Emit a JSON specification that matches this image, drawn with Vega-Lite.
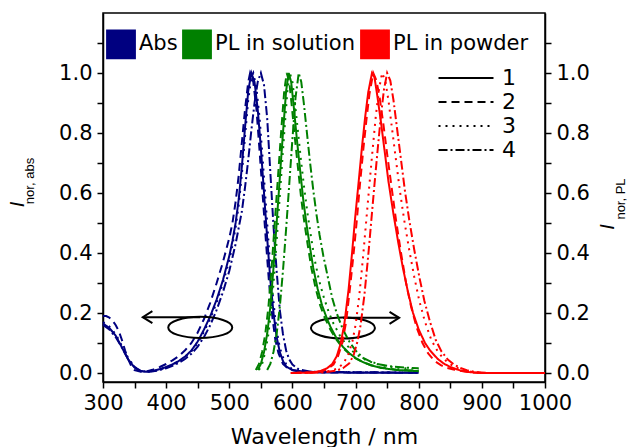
{
"$schema":"https://vega.github.io/schema/vega-lite/v6.json",
"width":442,"height":369,
"autosize":{"type":"none"},
"padding":{"left":103,"top":13,"right":86,"bottom":65},
"background":"white",
"config":{
 "view":{"stroke":"black","strokeWidth":1.5},
 "font":"DejaVu Sans",
 "axis":{"domainColor":"black","domainWidth":1.5,"tickColor":"black","tickWidth":1.5,"tickSize":6,"labelColor":"black","labelFontSize":21,"labelFont":"DejaVu Sans","grid":false,"titleColor":"black","titleFont":"DejaVu Sans","titleFontWeight":"normal"},
 "legend":{"labelFont":"DejaVu Sans","labelColor":"black"}
},
"datasets":{
"curves":[
{"s":"A","n":"1","x":300,"y":0.165},{"s":"A","n":"1","x":310,"y":0.15},{"s":"A","n":"1","x":320,"y":0.125},{"s":"A","n":"1","x":330,"y":0.085},{"s":"A","n":"1","x":340,"y":0.045},{"s":"A","n":"1","x":350,"y":0.018},{"s":"A","n":"1","x":360,"y":0.006},{"s":"A","n":"1","x":370,"y":0.004},{"s":"A","n":"1","x":380,"y":0.007},{"s":"A","n":"1","x":390,"y":0.013},{"s":"A","n":"1","x":400,"y":0.02},{"s":"A","n":"1","x":410,"y":0.029},{"s":"A","n":"1","x":420,"y":0.04},{"s":"A","n":"1","x":430,"y":0.055},{"s":"A","n":"1","x":440,"y":0.075},{"s":"A","n":"1","x":450,"y":0.105},{"s":"A","n":"1","x":460,"y":0.145},{"s":"A","n":"1","x":470,"y":0.19},{"s":"A","n":"1","x":480,"y":0.245},{"s":"A","n":"1","x":490,"y":0.31},{"s":"A","n":"1","x":500,"y":0.39},{"s":"A","n":"1","x":505,"y":0.44},{"s":"A","n":"1","x":510,"y":0.5},{"s":"A","n":"1","x":515,"y":0.58},{"s":"A","n":"1","x":520,"y":0.69},{"s":"A","n":"1","x":525,"y":0.82},{"s":"A","n":"1","x":530,"y":0.94},{"s":"A","n":"1","x":535,"y":1.0},{"s":"A","n":"1","x":540,"y":0.97},{"s":"A","n":"1","x":545,"y":0.88},{"s":"A","n":"1","x":550,"y":0.75},{"s":"A","n":"1","x":555,"y":0.6},{"s":"A","n":"1","x":560,"y":0.45},{"s":"A","n":"1","x":565,"y":0.31},{"s":"A","n":"1","x":570,"y":0.2},{"s":"A","n":"1","x":575,"y":0.12},{"s":"A","n":"1","x":580,"y":0.07},{"s":"A","n":"1","x":585,"y":0.04},{"s":"A","n":"1","x":590,"y":0.022},{"s":"A","n":"1","x":600,"y":0.01},{"s":"A","n":"1","x":620,"y":0.004},{"s":"A","n":"1","x":650,"y":0.002},{"s":"A","n":"1","x":700,"y":0.001},{"s":"A","n":"1","x":800,"y":0.001},
{"s":"A","n":"2","x":300,"y":0.19},{"s":"A","n":"2","x":305,"y":0.19},{"s":"A","n":"2","x":310,"y":0.185},{"s":"A","n":"2","x":315,"y":0.175},{"s":"A","n":"2","x":320,"y":0.16},{"s":"A","n":"2","x":325,"y":0.14},{"s":"A","n":"2","x":330,"y":0.11},{"s":"A","n":"2","x":335,"y":0.075},{"s":"A","n":"2","x":340,"y":0.045},{"s":"A","n":"2","x":345,"y":0.022},{"s":"A","n":"2","x":350,"y":0.01},{"s":"A","n":"2","x":360,"y":0.004},{"s":"A","n":"2","x":370,"y":0.006},{"s":"A","n":"2","x":380,"y":0.012},{"s":"A","n":"2","x":390,"y":0.02},{"s":"A","n":"2","x":400,"y":0.03},{"s":"A","n":"2","x":410,"y":0.042},{"s":"A","n":"2","x":420,"y":0.056},{"s":"A","n":"2","x":430,"y":0.076},{"s":"A","n":"2","x":440,"y":0.1},{"s":"A","n":"2","x":450,"y":0.135},{"s":"A","n":"2","x":460,"y":0.18},{"s":"A","n":"2","x":470,"y":0.235},{"s":"A","n":"2","x":480,"y":0.3},{"s":"A","n":"2","x":490,"y":0.37},{"s":"A","n":"2","x":500,"y":0.45},{"s":"A","n":"2","x":505,"y":0.5},{"s":"A","n":"2","x":510,"y":0.57},{"s":"A","n":"2","x":515,"y":0.66},{"s":"A","n":"2","x":520,"y":0.77},{"s":"A","n":"2","x":525,"y":0.88},{"s":"A","n":"2","x":530,"y":0.97},{"s":"A","n":"2","x":533,"y":1.0},{"s":"A","n":"2","x":538,"y":0.97},{"s":"A","n":"2","x":543,"y":0.88},{"s":"A","n":"2","x":548,"y":0.74},{"s":"A","n":"2","x":553,"y":0.59},{"s":"A","n":"2","x":558,"y":0.44},{"s":"A","n":"2","x":563,"y":0.3},{"s":"A","n":"2","x":568,"y":0.19},{"s":"A","n":"2","x":573,"y":0.11},{"s":"A","n":"2","x":578,"y":0.065},{"s":"A","n":"2","x":585,"y":0.03},{"s":"A","n":"2","x":595,"y":0.012},{"s":"A","n":"2","x":610,"y":0.005},{"s":"A","n":"2","x":650,"y":0.002},{"s":"A","n":"2","x":800,"y":0.001},
{"s":"A","n":"3","x":300,"y":0.17},{"s":"A","n":"3","x":310,"y":0.155},{"s":"A","n":"3","x":320,"y":0.13},{"s":"A","n":"3","x":330,"y":0.09},{"s":"A","n":"3","x":340,"y":0.05},{"s":"A","n":"3","x":350,"y":0.02},{"s":"A","n":"3","x":360,"y":0.007},{"s":"A","n":"3","x":370,"y":0.004},{"s":"A","n":"3","x":380,"y":0.006},{"s":"A","n":"3","x":390,"y":0.011},{"s":"A","n":"3","x":400,"y":0.018},{"s":"A","n":"3","x":410,"y":0.027},{"s":"A","n":"3","x":420,"y":0.038},{"s":"A","n":"3","x":430,"y":0.052},{"s":"A","n":"3","x":440,"y":0.072},{"s":"A","n":"3","x":450,"y":0.1},{"s":"A","n":"3","x":460,"y":0.138},{"s":"A","n":"3","x":470,"y":0.182},{"s":"A","n":"3","x":480,"y":0.235},{"s":"A","n":"3","x":490,"y":0.3},{"s":"A","n":"3","x":500,"y":0.375},{"s":"A","n":"3","x":505,"y":0.425},{"s":"A","n":"3","x":510,"y":0.485},{"s":"A","n":"3","x":515,"y":0.56},{"s":"A","n":"3","x":520,"y":0.665},{"s":"A","n":"3","x":525,"y":0.79},{"s":"A","n":"3","x":530,"y":0.91},{"s":"A","n":"3","x":535,"y":0.985},{"s":"A","n":"3","x":538,"y":1.0},{"s":"A","n":"3","x":543,"y":0.95},{"s":"A","n":"3","x":548,"y":0.85},{"s":"A","n":"3","x":553,"y":0.71},{"s":"A","n":"3","x":558,"y":0.56},{"s":"A","n":"3","x":563,"y":0.41},{"s":"A","n":"3","x":568,"y":0.28},{"s":"A","n":"3","x":573,"y":0.175},{"s":"A","n":"3","x":578,"y":0.105},{"s":"A","n":"3","x":583,"y":0.062},{"s":"A","n":"3","x":590,"y":0.03},{"s":"A","n":"3","x":600,"y":0.012},{"s":"A","n":"3","x":620,"y":0.004},{"s":"A","n":"3","x":800,"y":0.001},
{"s":"A","n":"4","x":300,"y":0.16},{"s":"A","n":"4","x":310,"y":0.145},{"s":"A","n":"4","x":320,"y":0.12},{"s":"A","n":"4","x":330,"y":0.085},{"s":"A","n":"4","x":340,"y":0.045},{"s":"A","n":"4","x":350,"y":0.02},{"s":"A","n":"4","x":360,"y":0.007},{"s":"A","n":"4","x":370,"y":0.004},{"s":"A","n":"4","x":380,"y":0.006},{"s":"A","n":"4","x":390,"y":0.01},{"s":"A","n":"4","x":400,"y":0.016},{"s":"A","n":"4","x":410,"y":0.024},{"s":"A","n":"4","x":420,"y":0.034},{"s":"A","n":"4","x":430,"y":0.047},{"s":"A","n":"4","x":440,"y":0.064},{"s":"A","n":"4","x":450,"y":0.088},{"s":"A","n":"4","x":460,"y":0.12},{"s":"A","n":"4","x":470,"y":0.16},{"s":"A","n":"4","x":480,"y":0.21},{"s":"A","n":"4","x":490,"y":0.27},{"s":"A","n":"4","x":500,"y":0.34},{"s":"A","n":"4","x":510,"y":0.43},{"s":"A","n":"4","x":520,"y":0.54},{"s":"A","n":"4","x":525,"y":0.62},{"s":"A","n":"4","x":530,"y":0.71},{"s":"A","n":"4","x":535,"y":0.81},{"s":"A","n":"4","x":540,"y":0.9},{"s":"A","n":"4","x":545,"y":0.97},{"s":"A","n":"4","x":550,"y":1.0},{"s":"A","n":"4","x":555,"y":0.96},{"s":"A","n":"4","x":560,"y":0.85},{"s":"A","n":"4","x":565,"y":0.67},{"s":"A","n":"4","x":570,"y":0.49},{"s":"A","n":"4","x":575,"y":0.34},{"s":"A","n":"4","x":580,"y":0.21},{"s":"A","n":"4","x":585,"y":0.13},{"s":"A","n":"4","x":590,"y":0.075},{"s":"A","n":"4","x":595,"y":0.045},{"s":"A","n":"4","x":600,"y":0.028},{"s":"A","n":"4","x":610,"y":0.012},{"s":"A","n":"4","x":630,"y":0.004},{"s":"A","n":"4","x":800,"y":0.001},
{"s":"S","n":"1","x":545,"y":0.01},{"s":"S","n":"1","x":550,"y":0.03},{"s":"S","n":"1","x":555,"y":0.07},{"s":"S","n":"1","x":560,"y":0.13},{"s":"S","n":"1","x":565,"y":0.22},{"s":"S","n":"1","x":570,"y":0.35},{"s":"S","n":"1","x":575,"y":0.5},{"s":"S","n":"1","x":580,"y":0.65},{"s":"S","n":"1","x":585,"y":0.8},{"s":"S","n":"1","x":590,"y":0.94},{"s":"S","n":"1","x":594,"y":1.0},{"s":"S","n":"1","x":598,"y":0.97},{"s":"S","n":"1","x":602,"y":0.89},{"s":"S","n":"1","x":607,"y":0.78},{"s":"S","n":"1","x":612,"y":0.68},{"s":"S","n":"1","x":617,"y":0.58},{"s":"S","n":"1","x":622,"y":0.5},{"s":"S","n":"1","x":627,"y":0.43},{"s":"S","n":"1","x":633,"y":0.35},{"s":"S","n":"1","x":640,"y":0.28},{"s":"S","n":"1","x":647,"y":0.225},{"s":"S","n":"1","x":654,"y":0.185},{"s":"S","n":"1","x":660,"y":0.155},{"s":"S","n":"1","x":670,"y":0.115},{"s":"S","n":"1","x":680,"y":0.087},{"s":"S","n":"1","x":690,"y":0.066},{"s":"S","n":"1","x":700,"y":0.05},{"s":"S","n":"1","x":712,"y":0.036},{"s":"S","n":"1","x":725,"y":0.025},{"s":"S","n":"1","x":740,"y":0.017},{"s":"S","n":"1","x":765,"y":0.01},{"s":"S","n":"1","x":800,"y":0.006},
{"s":"S","n":"2","x":542,"y":0.01},{"s":"S","n":"2","x":547,"y":0.03},{"s":"S","n":"2","x":552,"y":0.07},{"s":"S","n":"2","x":557,"y":0.13},{"s":"S","n":"2","x":562,"y":0.22},{"s":"S","n":"2","x":567,"y":0.35},{"s":"S","n":"2","x":572,"y":0.5},{"s":"S","n":"2","x":577,"y":0.65},{"s":"S","n":"2","x":582,"y":0.8},{"s":"S","n":"2","x":587,"y":0.94},{"s":"S","n":"2","x":591,"y":1.0},{"s":"S","n":"2","x":595,"y":0.97},{"s":"S","n":"2","x":599,"y":0.89},{"s":"S","n":"2","x":604,"y":0.78},{"s":"S","n":"2","x":609,"y":0.68},{"s":"S","n":"2","x":614,"y":0.58},{"s":"S","n":"2","x":619,"y":0.5},{"s":"S","n":"2","x":624,"y":0.43},{"s":"S","n":"2","x":630,"y":0.35},{"s":"S","n":"2","x":637,"y":0.28},{"s":"S","n":"2","x":644,"y":0.225},{"s":"S","n":"2","x":651,"y":0.185},{"s":"S","n":"2","x":660,"y":0.145},{"s":"S","n":"2","x":670,"y":0.11},{"s":"S","n":"2","x":680,"y":0.083},{"s":"S","n":"2","x":690,"y":0.064},{"s":"S","n":"2","x":700,"y":0.049},{"s":"S","n":"2","x":712,"y":0.036},{"s":"S","n":"2","x":725,"y":0.026},{"s":"S","n":"2","x":740,"y":0.018},{"s":"S","n":"2","x":765,"y":0.011},{"s":"S","n":"2","x":800,"y":0.007},
{"s":"S","n":"3","x":547,"y":0.01},{"s":"S","n":"3","x":552,"y":0.03},{"s":"S","n":"3","x":557,"y":0.07},{"s":"S","n":"3","x":562,"y":0.13},{"s":"S","n":"3","x":567,"y":0.22},{"s":"S","n":"3","x":572,"y":0.35},{"s":"S","n":"3","x":577,"y":0.5},{"s":"S","n":"3","x":582,"y":0.65},{"s":"S","n":"3","x":587,"y":0.8},{"s":"S","n":"3","x":592,"y":0.94},{"s":"S","n":"3","x":596,"y":1.0},{"s":"S","n":"3","x":600,"y":0.97},{"s":"S","n":"3","x":604,"y":0.9},{"s":"S","n":"3","x":609,"y":0.8},{"s":"S","n":"3","x":614,"y":0.7},{"s":"S","n":"3","x":619,"y":0.61},{"s":"S","n":"3","x":624,"y":0.53},{"s":"S","n":"3","x":629,"y":0.46},{"s":"S","n":"3","x":635,"y":0.38},{"s":"S","n":"3","x":642,"y":0.31},{"s":"S","n":"3","x":650,"y":0.25},{"s":"S","n":"3","x":658,"y":0.2},{"s":"S","n":"3","x":665,"y":0.165},{"s":"S","n":"3","x":675,"y":0.125},{"s":"S","n":"3","x":685,"y":0.095},{"s":"S","n":"3","x":695,"y":0.073},{"s":"S","n":"3","x":705,"y":0.057},{"s":"S","n":"3","x":715,"y":0.045},{"s":"S","n":"3","x":728,"y":0.034},{"s":"S","n":"3","x":740,"y":0.026},{"s":"S","n":"3","x":765,"y":0.018},{"s":"S","n":"3","x":800,"y":0.013},
{"s":"S","n":"4","x":560,"y":0.01},{"s":"S","n":"4","x":565,"y":0.03},{"s":"S","n":"4","x":570,"y":0.07},{"s":"S","n":"4","x":575,"y":0.13},{"s":"S","n":"4","x":580,"y":0.22},{"s":"S","n":"4","x":585,"y":0.34},{"s":"S","n":"4","x":590,"y":0.48},{"s":"S","n":"4","x":595,"y":0.63},{"s":"S","n":"4","x":600,"y":0.78},{"s":"S","n":"4","x":605,"y":0.92},{"s":"S","n":"4","x":610,"y":1.0},{"s":"S","n":"4","x":614,"y":0.97},{"s":"S","n":"4","x":618,"y":0.9},{"s":"S","n":"4","x":623,"y":0.8},{"s":"S","n":"4","x":628,"y":0.7},{"s":"S","n":"4","x":633,"y":0.61},{"s":"S","n":"4","x":638,"y":0.53},{"s":"S","n":"4","x":643,"y":0.46},{"s":"S","n":"4","x":649,"y":0.39},{"s":"S","n":"4","x":656,"y":0.32},{"s":"S","n":"4","x":663,"y":0.25},{"s":"S","n":"4","x":670,"y":0.2},{"s":"S","n":"4","x":680,"y":0.145},{"s":"S","n":"4","x":690,"y":0.105},{"s":"S","n":"4","x":700,"y":0.075},{"s":"S","n":"4","x":712,"y":0.05},{"s":"S","n":"4","x":725,"y":0.037},{"s":"S","n":"4","x":739,"y":0.028},{"s":"S","n":"4","x":760,"y":0.021},{"s":"S","n":"4","x":780,"y":0.018},{"s":"S","n":"4","x":800,"y":0.016},
{"s":"P","n":"1","x":597,"y":0.0},{"s":"P","n":"1","x":620,"y":0.001},{"s":"P","n":"1","x":635,"y":0.003},{"s":"P","n":"1","x":645,"y":0.007},{"s":"P","n":"1","x":655,"y":0.016},{"s":"P","n":"1","x":663,"y":0.03},{"s":"P","n":"1","x":670,"y":0.055},{"s":"P","n":"1","x":676,"y":0.095},{"s":"P","n":"1","x":682,"y":0.16},{"s":"P","n":"1","x":689,"y":0.28},{"s":"P","n":"1","x":694,"y":0.39},{"s":"P","n":"1","x":699,"y":0.51},{"s":"P","n":"1","x":705,"y":0.64},{"s":"P","n":"1","x":710,"y":0.75},{"s":"P","n":"1","x":715,"y":0.85},{"s":"P","n":"1","x":720,"y":0.935},{"s":"P","n":"1","x":726,"y":1.0},{"s":"P","n":"1","x":730,"y":0.985},{"s":"P","n":"1","x":734,"y":0.93},{"s":"P","n":"1","x":740,"y":0.84},{"s":"P","n":"1","x":746,"y":0.74},{"s":"P","n":"1","x":752,"y":0.64},{"s":"P","n":"1","x":760,"y":0.53},{"s":"P","n":"1","x":768,"y":0.43},{"s":"P","n":"1","x":775,"y":0.35},{"s":"P","n":"1","x":783,"y":0.27},{"s":"P","n":"1","x":791,"y":0.2},{"s":"P","n":"1","x":800,"y":0.145},{"s":"P","n":"1","x":810,"y":0.1},{"s":"P","n":"1","x":818,"y":0.075},{"s":"P","n":"1","x":830,"y":0.047},{"s":"P","n":"1","x":840,"y":0.031},{"s":"P","n":"1","x":850,"y":0.02},{"s":"P","n":"1","x":865,"y":0.009},{"s":"P","n":"1","x":880,"y":0.003},{"s":"P","n":"1","x":900,"y":0.0},{"s":"P","n":"1","x":1000,"y":0.0},
{"s":"P","n":"2","x":600,"y":0.0},{"s":"P","n":"2","x":630,"y":0.001},{"s":"P","n":"2","x":645,"y":0.005},{"s":"P","n":"2","x":655,"y":0.012},{"s":"P","n":"2","x":665,"y":0.028},{"s":"P","n":"2","x":672,"y":0.055},{"s":"P","n":"2","x":679,"y":0.1},{"s":"P","n":"2","x":685,"y":0.17},{"s":"P","n":"2","x":691,"y":0.28},{"s":"P","n":"2","x":697,"y":0.4},{"s":"P","n":"2","x":702,"y":0.51},{"s":"P","n":"2","x":707,"y":0.63},{"s":"P","n":"2","x":712,"y":0.74},{"s":"P","n":"2","x":717,"y":0.84},{"s":"P","n":"2","x":722,"y":0.93},{"s":"P","n":"2","x":728,"y":1.0},{"s":"P","n":"2","x":733,"y":0.975},{"s":"P","n":"2","x":738,"y":0.92},{"s":"P","n":"2","x":744,"y":0.83},{"s":"P","n":"2","x":750,"y":0.73},{"s":"P","n":"2","x":757,"y":0.62},{"s":"P","n":"2","x":764,"y":0.51},{"s":"P","n":"2","x":772,"y":0.4},{"s":"P","n":"2","x":780,"y":0.3},{"s":"P","n":"2","x":788,"y":0.22},{"s":"P","n":"2","x":797,"y":0.15},{"s":"P","n":"2","x":806,"y":0.1},{"s":"P","n":"2","x":815,"y":0.065},{"s":"P","n":"2","x":825,"y":0.04},{"s":"P","n":"2","x":835,"y":0.026},{"s":"P","n":"2","x":845,"y":0.017},{"s":"P","n":"2","x":855,"y":0.012},{"s":"P","n":"2","x":865,"y":0.008},{"s":"P","n":"2","x":875,"y":0.004},{"s":"P","n":"2","x":890,"y":0.001},{"s":"P","n":"2","x":910,"y":0.0},{"s":"P","n":"2","x":1000,"y":0.0},
{"s":"P","n":"3","x":600,"y":0.0},{"s":"P","n":"3","x":640,"y":0.002},{"s":"P","n":"3","x":660,"y":0.007},{"s":"P","n":"3","x":670,"y":0.014},{"s":"P","n":"3","x":680,"y":0.03},{"s":"P","n":"3","x":688,"y":0.058},{"s":"P","n":"3","x":695,"y":0.105},{"s":"P","n":"3","x":700,"y":0.16},{"s":"P","n":"3","x":706,"y":0.26},{"s":"P","n":"3","x":712,"y":0.39},{"s":"P","n":"3","x":717,"y":0.51},{"s":"P","n":"3","x":722,"y":0.63},{"s":"P","n":"3","x":727,"y":0.745},{"s":"P","n":"3","x":732,"y":0.855},{"s":"P","n":"3","x":737,"y":0.945},{"s":"P","n":"3","x":742,"y":1.0},{"s":"P","n":"3","x":747,"y":0.975},{"s":"P","n":"3","x":752,"y":0.91},{"s":"P","n":"3","x":758,"y":0.81},{"s":"P","n":"3","x":764,"y":0.71},{"s":"P","n":"3","x":770,"y":0.61},{"s":"P","n":"3","x":777,"y":0.51},{"s":"P","n":"3","x":785,"y":0.41},{"s":"P","n":"3","x":793,"y":0.32},{"s":"P","n":"3","x":801,"y":0.24},{"s":"P","n":"3","x":810,"y":0.17},{"s":"P","n":"3","x":820,"y":0.11},{"s":"P","n":"3","x":830,"y":0.072},{"s":"P","n":"3","x":840,"y":0.046},{"s":"P","n":"3","x":850,"y":0.029},{"s":"P","n":"3","x":860,"y":0.018},{"s":"P","n":"3","x":870,"y":0.01},{"s":"P","n":"3","x":885,"y":0.003},{"s":"P","n":"3","x":905,"y":0.0},{"s":"P","n":"3","x":1000,"y":0.0},
{"s":"P","n":"4","x":600,"y":0.0},{"s":"P","n":"4","x":650,"y":0.002},{"s":"P","n":"4","x":670,"y":0.008},{"s":"P","n":"4","x":680,"y":0.016},{"s":"P","n":"4","x":690,"y":0.032},{"s":"P","n":"4","x":697,"y":0.06},{"s":"P","n":"4","x":703,"y":0.105},{"s":"P","n":"4","x":708,"y":0.16},{"s":"P","n":"4","x":714,"y":0.26},{"s":"P","n":"4","x":720,"y":0.39},{"s":"P","n":"4","x":725,"y":0.51},{"s":"P","n":"4","x":730,"y":0.63},{"s":"P","n":"4","x":735,"y":0.745},{"s":"P","n":"4","x":740,"y":0.855},{"s":"P","n":"4","x":745,"y":0.945},{"s":"P","n":"4","x":750,"y":1.0},{"s":"P","n":"4","x":755,"y":0.975},{"s":"P","n":"4","x":760,"y":0.91},{"s":"P","n":"4","x":766,"y":0.81},{"s":"P","n":"4","x":772,"y":0.71},{"s":"P","n":"4","x":778,"y":0.61},{"s":"P","n":"4","x":785,"y":0.51},{"s":"P","n":"4","x":793,"y":0.41},{"s":"P","n":"4","x":801,"y":0.32},{"s":"P","n":"4","x":809,"y":0.24},{"s":"P","n":"4","x":818,"y":0.17},{"s":"P","n":"4","x":827,"y":0.11},{"s":"P","n":"4","x":836,"y":0.072},{"s":"P","n":"4","x":846,"y":0.045},{"s":"P","n":"4","x":856,"y":0.028},{"s":"P","n":"4","x":866,"y":0.017},{"s":"P","n":"4","x":876,"y":0.009},{"s":"P","n":"4","x":890,"y":0.003},{"s":"P","n":"4","x":910,"y":0.0},{"s":"P","n":"4","x":1000,"y":0.0}
],
"ell":[{"x":454,"y":0.152},{"x":680,"y":0.15}],
"arr":[{"x":363,"x2":454,"y":0.186,"d":"L"},{"x":769,"x2":680,"y":0.184,"d":"R"}],
"ital":[{"x":165,"y":0.562,"t":"I"},{"x":1100,"y":0.487,"t":"I"}],
"subs":[{"x":185,"y":0.64,"t":"nor, abs"},{"x":1120,"y":0.58,"t":"nor, PL"}]
},
"encoding":{"x":{"field":"x","type":"quantitative","scale":{"domain":[300,1000],"nice":false,"zero":false},"axis":{"values":[300,350,400,450,500,550,600,650,700,750,800,850,900,950,1000],"format":"d","labelExpr":"datum.value % 100 === 0 ? datum.label : ''","title":"Wavelength / nm","titleFontSize":22,"titlePadding":13,"labelPadding":4,"labelFlush":false,"labelOverlap":false}}},
"layer":[
 {
  "encoding":{"y":{"field":"y","type":"quantitative","scale":{"domain":[-0.03,1.2],"nice":false,"zero":false},"axis":{"orient":"left","values":[0,0.1,0.2,0.3,0.4,0.5,0.6,0.7,0.8,0.9,1.0,1.1],"labelExpr":"round(datum.value*10) % 2 === 0 ? format(datum.value, '.1f') : ''","title":null,"labelPadding":5,"labelOverlap":false}}},
  "layer":[
   {
    "data":{"name":"curves"},
    "transform":[{"filter":"datum.s === 'A'"}],
    "mark":{"type":"line","strokeWidth":2},
    "encoding":{
     "color":{
      "field":"s","type":"nominal",
      "scale":{"domain":["A","S","P"],"range":["#000080","#008000","#ff0000"]},
      "legend":{
       "orient":"none","legendX":3,"legendY":16,"direction":"horizontal","title":null,
       "symbolType":"square","symbolSize":800,"labelFontSize":21,"columnPadding":1,"labelOffset":3,
       "labelExpr":"datum.value === 'A' ? 'Abs' : datum.value === 'S' ? 'PL in solution' : 'PL in powder'",
       "encode":{"symbols":{"update":{"fill":{"scale":"color","field":"value"},"stroke":{"value":"#555555"},"strokeWidth":{"value":1.5},"opacity":{"value":1}}}}
      }
     },
     "strokeDash":{
      "field":"n","type":"nominal",
      "scale":{"domain":["1","2","3","4"],"range":[[1,0],[8,5],[2,5],[9,3,2,3]]},
      "legend":{
       "orient":"none","legendX":352,"legendY":54,"title":null,
       "symbolType":"M -2.75 0 L 2.75 0","symbolSize":400,"symbolStrokeColor":"black","symbolStrokeWidth":2,
       "labelFontSize":22,"labelOffset":25,"rowPadding":2,
       "encode":{"symbols":{"update":{"stroke":{"value":"black"},"strokeWidth":{"value":2},"opacity":{"value":1}}}}
      }
     }
    }
   },
   {"data":{"name":"ell"},"mark":{"type":"point","shape":"M -1 0 A 1 0.33 0 1 1 1 0 A 1 0.33 0 1 1 -1 0 Z","size":4096,"filled":false,"stroke":"black","strokeWidth":2,"opacity":1}},
   {"data":{"name":"arr"},"mark":{"type":"rule","stroke":"black","strokeWidth":2},"encoding":{"x2":{"field":"x2"}}},
   {"data":{"name":"arr"},"mark":{"type":"point","filled":false,"stroke":"black","strokeWidth":2,"size":144,"opacity":1},"encoding":{"shape":{"field":"d","type":"nominal","scale":{"domain":["L","R"],"range":["M 1.6 -1 L 0 0 L 1.6 1","M -1.6 -1 L 0 0 L -1.6 1"]},"legend":null}}},
   {"data":{"name":"ital"},"mark":{"type":"text","angle":270,"fontSize":20,"fontStyle":"italic","font":"Liberation Sans","align":"center","baseline":"middle","color":"black"},"encoding":{"text":{"field":"t"}}},
   {"data":{"name":"subs"},"mark":{"type":"text","angle":270,"fontSize":13,"font":"Liberation Sans","align":"center","baseline":"middle","color":"black"},"encoding":{"text":{"field":"t"}}}
  ]
 },
 {
  "data":{"name":"curves"},
  "transform":[{"filter":"datum.s !== 'A'"}],
  "mark":{"type":"line","strokeWidth":2},
  "encoding":{
   "y":{"field":"y","type":"quantitative","scale":{"domain":[-0.03,1.2],"nice":false,"zero":false},"axis":{"orient":"right","values":[0,0.1,0.2,0.3,0.4,0.5,0.6,0.7,0.8,0.9,1.0,1.1],"labelExpr":"round(datum.value*10) % 2 === 0 ? format(datum.value, '.1f') : ''","title":null,"labelPadding":5,"labelOverlap":false}},
   "color":{"field":"s","type":"nominal","scale":{"domain":["A","S","P"],"range":["#000080","#008000","#ff0000"]}},
   "strokeDash":{"field":"n","type":"nominal","scale":{"domain":["1","2","3","4"],"range":[[1,0],[8,5],[2,5],[9,3,2,3]]}}
  }
 }
],
"resolve":{"scale":{"y":"independent"}}
}
